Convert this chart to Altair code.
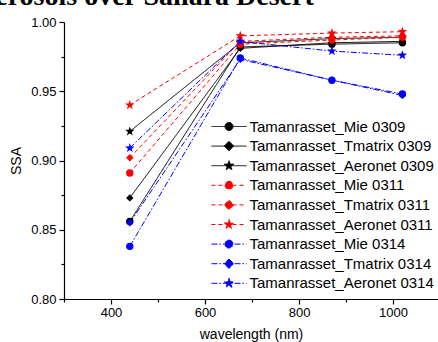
import altair as alt
import pandas as pd

title_text = ["Aerosols over Sahara Desert"]

wavelength = [440, 675, 870, 1020]

series = [
    "Tamanrasset_Mie 0309",
    "Tamanrasset_Tmatrix 0309",
    "Tamanrasset_Aeronet 0309",
    "Tamanrasset_Mie 0311",
    "Tamanrasset_Tmatrix 0311",
    "Tamanrasset_Aeronet 0311",
    "Tamanrasset_Mie 0314",
    "Tamanrasset_Tmatrix 0314",
    "Tamanrasset_Aeronet 0314",
]
markers = ["circle", "diamond", "star"] * 3
colors = ["#000000"] * 3 + ["#ff0000"] * 3 + ["#0000ff"] * 3
dashes = [[1, 0]] * 3 + [[4, 3]] * 3 + [[6, 2, 1.5, 2]] * 3

mie_0309 = [0.856, 0.982, 0.984, 0.985]
tmatrix_0309 = [0.873, 0.981, 0.985, 0.986]
aeronet_0309 = [0.921, 0.985, 0.988, 0.989]
mie_0311 = [0.891, 0.984, 0.987, 0.989]
tmatrix_0311 = [0.902, 0.986, 0.989, 0.990]
aeronet_0311 = [0.940, 0.990, 0.992, 0.993]
mie_0314 = [0.838, 0.974, 0.958, 0.948]
tmatrix_0314 = [0.855, 0.973, 0.958, 0.947]
aeronet_0314 = [0.909, 0.986, 0.979, 0.976]

values = [mie_0309, tmatrix_0309, aeronet_0309,
          mie_0311, tmatrix_0311, aeronet_0311,
          mie_0314, tmatrix_0314, aeronet_0314]

x_ticks = [300, 400, 500, 600, 700, 800, 900, 1000]
y_ticks = [0.80, 0.825, 0.85, 0.875, 0.90, 0.925, 0.95, 0.975, 1.00]

rows = []
for i, name in enumerate(series):
    for w, v in zip(wavelength, values[i]):
        rows.append({"series": name, "marker": markers[i], "order": i,
                     "wavelength": w, "ssa": v})
df = pd.DataFrame(rows)

FONT = "Liberation Sans"
xdom = [300, 1095.7]
ydom = [0.80, 1.00]

# custom star path (unit coords, scaled by sqrt(size)/2)
STAR_PT = ("M0,-1.35L0.317,-0.437L1.284,-0.417L0.513,0.167L0.794,1.092L0,0.54"
           "L-0.794,1.092L-0.513,0.167L-1.284,-0.417L-0.317,-0.437Z")

# legend symbol paths: line segment + marker
LINE = "M-3.5,0H3.5"
CIRCLE = "M0,-0.8A0.8,0.8,0,1,1,0,0.8A0.8,0.8,0,1,1,0,-0.8Z"
DIAMOND = "M0,-0.95L0.95,0L0,0.95L-0.95,0Z"
STAR = ("M0,-1L0.235,-0.324L0.951,-0.309L0.38,0.124L0.588,0.809L0,0.4"
        "L-0.588,0.809L-0.38,0.124L-0.951,-0.309L-0.235,-0.324Z")
shape_expr = ("indexof(datum.value, 'Mie') >= 0 ? '%s %s' : "
              "(indexof(datum.value, 'Tmatrix') >= 0 ? '%s %s' : '%s %s')"
              % (LINE, CIRCLE, LINE, DIAMOND, LINE, STAR))

legend = alt.Legend(
    title=None, orient="none", legendX=157.5, legendY=97, padding=0,
    symbolSize=100, symbolStrokeWidth=1, labelOffset=13, rowPadding=3.6,
    labelFont=FONT, labelFontSize=15, labelColor="black", labelLimit=400,
    symbolType={"expr": shape_expr},
    symbolFillColor={"expr": "scale('color', datum.value)"},
    symbolOpacity=1,
)

color = alt.Color("series:N", scale=alt.Scale(domain=series, range=colors), legend=legend)
dash = alt.StrokeDash("series:N", scale=alt.Scale(domain=series, range=dashes), legend=legend)
shape = alt.Shape("marker:N", scale=alt.Scale(domain=["circle", "diamond", "star"],
                                             range=["circle", "diamond", STAR_PT]), legend=None)

axis_common = dict(grid=False, domainColor="black", tickColor="black", labelColor="black",
                   labelFont=FONT, labelFontSize=13, titleFont=FONT, titleFontSize=14,
                   titleFontWeight="normal", titleColor="black", domainWidth=1.2, tickWidth=1.2)

x = alt.X("wavelength:Q", scale=alt.Scale(domain=xdom, nice=False, zero=False),
          axis=alt.Axis(values=x_ticks, orient="bottom", title="wavelength (nm)",
                        tickSize={"condition": {"test": "datum.value % 200 != 0", "value": 3},
                                  "value": 5},
                        labelExpr="datum.value % 200 == 0 ? datum.label : ''",
                        format="d", labelPadding=2, titlePadding=8, **axis_common))
y = alt.Y("ssa:Q", scale=alt.Scale(domain=ydom, nice=False, zero=False),
          axis=alt.Axis(values=y_ticks, orient="left", title="SSA",
                        tickSize={"condition": {"test": "round(datum.value * 1000) % 50 != 0",
                                                "value": 3}, "value": 5},
                        labelExpr="round(datum.value * 1000) % 50 == 0 ? format(datum.value, '.2f') : ''",
                        labelPadding=3, titlePadding=7, **axis_common))

lines = alt.Chart(df).mark_line(strokeWidth=1).encode(
    x=x, y=y, color=color, strokeDash=dash, detail="series:N",
)

points = alt.Chart(df).mark_point(filled=True, size=55, opacity=1).encode(
    x=x, y=y, color=color, shape=shape,
)

title = alt.Chart(pd.DataFrame({"t": title_text})).mark_text(
    font="Liberation Serif", fontSize=28, fontWeight="bold", align="left",
    baseline="alphabetic", color="black",
).encode(x=alt.value(-89), y=alt.value(-17), text="t:N")

chart = alt.layer(lines, points, title).properties(
    width=374, height=277,
    autosize=alt.AutoSizeParams(type="none"),
    padding={"left": 64, "top": 22, "right": 0, "bottom": 43},
).configure_view(strokeWidth=0)

chart.save("out.html", embed_options={"renderer": "svg", "actions": False})
